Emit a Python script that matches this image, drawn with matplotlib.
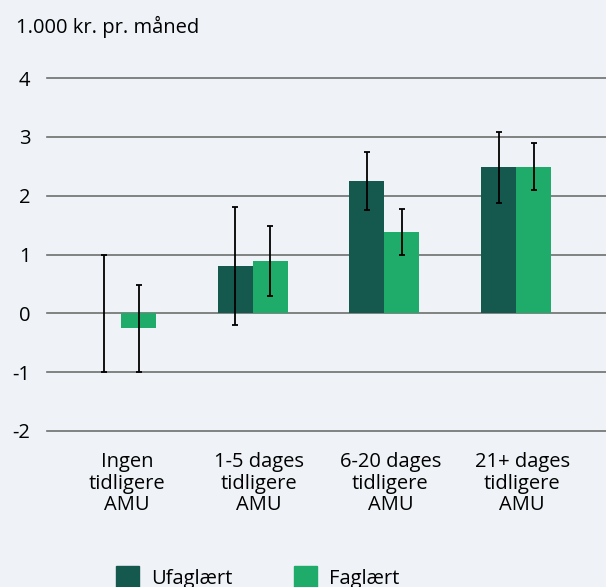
import numpy as np
import matplotlib

matplotlib.use("Agg")
import matplotlib.pyplot as plt  # noqa: E402
from matplotlib.patches import Rectangle  # noqa: E402

# Effekt af AMU på løn, med konfidensintervaller
categories = ["Ingen\ntidligere\nAMU", "1-5 dages\ntidligere\nAMU",
              "6-20 dages\ntidligere\nAMU", "21+ dages\ntidligere\nAMU"]
ufaglaert = [0.0, 0.80, 2.25, 2.49]
ufaglaert_low = [-1.0, -0.19, 1.75, 1.88]
ufaglaert_high = [1.0, 1.80, 2.74, 3.08]
faglaert = [-0.25, 0.89, 1.38, 2.49]
faglaert_low = [-1.0, 0.30, 1.00, 2.09]
faglaert_high = [0.49, 1.49, 1.78, 2.89]
y_ticks = [-2, -1, 0, 1, 2, 3, 4]

DARK = "#14584e"
LIGHT = "#1fab69"
BG = "#eff3f7"
FONT = "Open Sans"
SIZE = 14.5

plt.rcParams["font.family"] = [FONT, "DejaVu Sans"]

fig = plt.figure(figsize=(6.06, 5.87), dpi=100, facecolor=BG)
ax = fig.add_axes([47 / 606, 1 - 431 / 587, 559 / 606, 353 / 587])
ax.set_facecolor(BG)

x = np.arange(len(categories))
width = 0.266
shift = -0.045  # the bar pairs sit a little left of the category labels


def err(vals, low, high):
    vals = np.array(vals)
    return [vals - np.array(low), np.array(high) - vals]


ax.bar(x + shift - width / 2, ufaglaert, width, color=DARK, zorder=2,
       label="Ufaglært")
ax.bar(x + shift + width / 2, faglaert, width, color=LIGHT, zorder=2,
       label="Faglært")
ax.errorbar(x + shift - width / 2, ufaglaert,
            yerr=err(ufaglaert, ufaglaert_low, ufaglaert_high),
            fmt="none", ecolor="black", elinewidth=1.3, capsize=2.5,
            capthick=1.3, zorder=3)
ax.errorbar(x + shift + width / 2, faglaert,
            yerr=err(faglaert, faglaert_low, faglaert_high),
            fmt="none", ecolor="black", elinewidth=1.3, capsize=2.5,
            capthick=1.3, zorder=3)

for t in y_ticks:
    ax.axhline(t, color="#6e6e6e", lw=1.2, zorder=1, clip_on=False)

ax.set_ylim(-2, 4)
ax.set_xlim(-0.607, 3.637)
ax.set_yticks(y_ticks)
ax.set_yticklabels([str(t) for t in y_ticks], fontsize=SIZE)
ax.set_xticks(x)
ax.set_xticklabels(categories, fontsize=SIZE, linespacing=1.12)
ax.tick_params(axis="both", length=0)
ax.tick_params(axis="y", pad=12)
ax.tick_params(axis="x", pad=15)
for spine in ax.spines.values():
    spine.set_visible(False)

fig.text(16 / 606, 1 - 33 / 587, "1.000 kr. pr. måned", fontsize=SIZE,
         va="baseline", ha="left")

# Legend drawn by hand along the bottom edge
for left, colour, name in [(116, DARK, "Ufaglært"), (294, LIGHT, "Faglært")]:
    fig.patches.append(Rectangle((left / 606, 1 - 589 / 587), 23 / 606, 23 / 587,
                                 transform=fig.transFigure, color=colour))
    fig.text((left + 35) / 606, 1 - 584 / 587, name, fontsize=SIZE,
             va="baseline", ha="left")

fig.savefig("out.png", dpi=100, facecolor=BG)
